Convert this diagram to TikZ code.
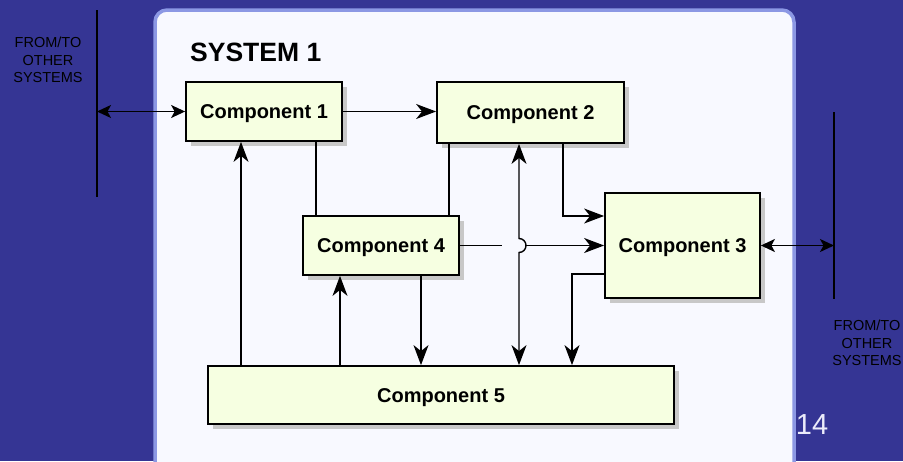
\documentclass[tikz,border=0pt]{standalone}
\usepackage{fontspec}
\setmainfont{Liberation Sans}
\usetikzlibrary{arrows.meta,shadows}

\definecolor{slidebg}{RGB}{53,53,148}
\definecolor{panelfill}{RGB}{248,249,255}
\definecolor{panelline}{RGB}{140,152,228}
\definecolor{boxfill}{RGB}{246,255,225}
\definecolor{shadowgray}{RGB}{200,200,200}
\definecolor{pagenum}{RGB}{235,235,250}

\tikzset{tip/.tip={Stealth[length=20pt,width=15pt,inset=6pt]},
  shorttip/.tip={Stealth[length=14pt,width=13pt,inset=3.5pt]}}

\begin{document}
\begin{tikzpicture}[x=1pt,y=-1pt,
    comp/.style={draw,line width=1.8pt,fill=boxfill,font=\fontsize{20}{22}\selectfont\bfseries,
      inner sep=0pt,text height=14pt,text depth=0pt,
      drop shadow={opacity=1,fill=shadowgray,shadow xshift=5pt,shadow yshift=-5pt}},
    link/.style={line width=1.4pt},
    arr/.style={link,-tip},
    dbl/.style={link,tip-tip},
    extdbl/.style={link,shorttip-shorttip},
    extlabel/.style={font=\fontsize{14.5}{17.5}\selectfont,align=center,inner sep=0pt}]
  % slide background and panel
  \fill[slidebg] (0,0) rectangle (903,461);
  \useasboundingbox (0,0) rectangle (903,461);
  \draw[panelline,fill=panelfill,line width=3.5pt,rounded corners=12pt] (155,10) rectangle (794,480);
  \node[font=\fontsize{29}{30}\selectfont,text=pagenum,inner sep=0pt] (page) at (812,425) {14};

  % boundary lines to other systems
  \coordinate (lt) at (97,10);
  \coordinate (lb) at (97,197);
  \coordinate (rt) at (834,112);
  \coordinate (rb) at (834,299);
  \draw[link] (lt) -- (lb);
  \draw[link] (rt) -- (rb);
  \node[extlabel] (extl) at (48,60) {FROM/TO\\OTHER\\SYSTEMS};
  \node[extlabel] (extr) at (867,343) {FROM/TO\\OTHER\\SYSTEMS};

  \node[font=\fontsize{26.5}{28}\selectfont\bfseries,anchor=west,inner sep=0pt] (title) at (190,52) {SYSTEM 1};

  % components
  \node[comp,minimum width=156pt,minimum height=59pt] (c1) at (264,111.5) {Component 1};
  \node[comp,minimum width=187pt,minimum height=61pt] (c2) at (530.5,112.5) {Component 2};
  \node[comp,minimum width=155pt,minimum height=105pt] (c3) at (682.5,245.5) {Component 3};
  \node[comp,minimum width=156pt,minimum height=59pt] (c4) at (381,245.5) {Component 4};
  \node[comp,minimum width=466pt,minimum height=58pt] (c5) at (441,395) {Component 5};

  % connections
  \draw[extdbl] (c1.west -| lt) -- (c1.west);
  \draw[extdbl] (c3.east) -- (c3.east -| rt);
  \draw[arr] (c1.east) -- (c1.east -| c2.west);
  \draw[link] ([xshift=52pt]c1.south) -- ([xshift=52pt]c1.south |- c4.north);
  \draw[link] ([xshift=-81.5pt]c2.south) -- ([xshift=-81.5pt]c2.south |- c4.north);
  \draw[arr] ([xshift=-23pt]c1.south |- c5.north) -- ([xshift=-23pt]c1.south);
  \draw[arr] ([xshift=-41pt]c4.south |- c5.north) -- ([xshift=-41pt]c4.south);
  \draw[arr] ([xshift=40pt]c4.south) -- ([xshift=40pt]c4.south |- c5.north);
  \draw[arr] ([xshift=32.5pt]c2.south) |- ([yshift=29.5pt]c3.west);
  \draw[arr] ([yshift=-28.5pt]c3.west) -| ([xshift=131pt]c5.north);
  \draw[arr] (c4.east) -- (c3.west);
  % hop of the 2<->5 line over the 4->3 line
  \coordinate (hop) at ([xshift=-11.5pt]c2.south |- c4.east);
  \fill[panelfill] ([xshift=-17pt,yshift=11pt]hop) rectangle ([xshift=7pt,yshift=-11pt]hop);
  \draw[dbl] ([xshift=-11.5pt]c2.south) -- ([yshift=7pt]hop) arc(-90:90:7) -- ([xshift=-11.5pt]c2.south |- c5.north);
\end{tikzpicture}
\end{document}
